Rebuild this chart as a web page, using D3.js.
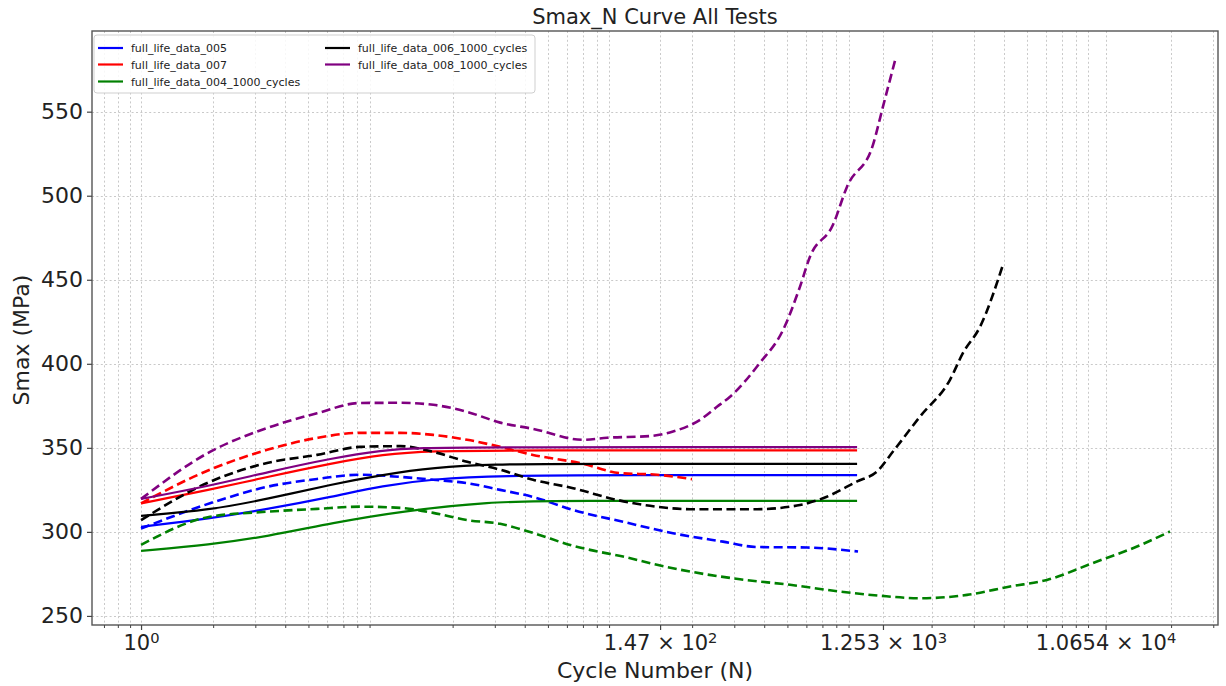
<!DOCTYPE html>
<html><head><meta charset="utf-8">
<script src="https://cdn.jsdelivr.net/npm/d3@7"></script>
<style>body{margin:0;background:#fff}svg{display:block;font-family:"DejaVu Sans",sans-serif}</style>
</head><body><svg id="c" width="1226" height="686"></svg>
<script>
// ---------- data ----------
const categories = ["full_life_data_005", "full_life_data_007", "full_life_data_004_1000_cycles", "full_life_data_006_1000_cycles", "full_life_data_008_1000_cycles"];

// solid (fitted) curves
const fitN_005 = [1, 1.94, 3.36, 6.34, 10.2, 16.6, 31.6, 100, 977];
const fitS_005 = [303, 308, 313.5, 321, 327.5, 331.5, 333.5, 333.8, 333.8];
const fitN_007 = [1, 1.94, 3.36, 6.34, 10.2, 16.6, 31.6, 977];
const fitS_007 = [317, 325, 332.7, 341, 346.2, 348.2, 348.5, 348.5];
const fitN_004 = [1, 1.94, 3.36, 6.34, 12.1, 29.5, 50, 977];
const fitS_004 = [288.7, 292.3, 297.3, 305.4, 312.3, 318, 318.5, 318.5];
const fitN_006 = [1, 1.94, 3.36, 6.34, 10.2, 16.6, 30, 60, 977];
const fitS_006 = [309.5, 313, 319.5, 328.5, 334, 338.3, 340.3, 340.5, 340.5];
const fitN_008 = [1, 1.94, 3.36, 6.34, 10.2, 14.2, 30, 977];
const fitS_008 = [319.6, 327.4, 335.5, 344, 348.6, 350, 350.4, 350.4];

// dashed (test) curves
const testN_005 = [1, 1.94, 3.36, 5.43, 8.21, 12.1, 16.6, 23.0, 31.6, 43.3, 63.7, 102.9, 166.4, 269, 373, 604, 986];
const testS_005 = [302, 317, 326.8, 331.5, 334, 332.7, 331, 329, 325, 320.8, 313, 306, 299.2, 294.2, 291, 290.7, 288.3];
const testN_007 = [1, 1.94, 3.36, 5.43, 8.21, 12.1, 16.6, 23.0, 31.6, 43.3, 68.1, 100, 142.7, 199.8];
const testS_007 = [317, 337, 348.8, 355.9, 358.9, 358.9, 357.7, 354.8, 350.6, 345.8, 340.9, 335, 334, 331.4];
const testN_004 = [1, 1.94, 3.36, 5.43, 8.21, 12.1, 16.6, 23.0, 31.6, 43.3, 63.7, 74.9, 102.9, 142.7, 196, 317, 513, 829, 1218, 1789, 2811, 4250, 6066, 9441, 14410, 19790];
const testS_004 = [292.3, 309, 312, 313.7, 315, 314.3, 311.3, 307, 304.8, 299.4, 291.7, 289.3, 285.3, 280.4, 276.4, 271.8, 268.5, 264.5, 262, 260.5, 262.5, 267.5, 271.4, 281.5, 291.3, 300.2];
const testN_006 = [1, 1.94, 3.36, 5.43, 8.21, 12.1, 16.6, 23.0, 31.6, 43.3, 63.7, 97.2, 133.5, 196, 373, 564, 704, 977, 1183, 1380, 1789, 2387, 2705, 3186, 3974];
const testS_006 = [307, 329.8, 341, 345.8, 350.6, 351, 347.6, 341.7, 337, 331, 326, 319, 315.5, 313.5, 313.5, 316, 320, 330, 335.9, 347.8, 368.6, 390.5, 406.5, 422, 459];
const testN_008 = [1, 1.94, 3.36, 5.43, 8.21, 12.1, 16.6, 23.0, 31.6, 43.3, 70.1, 88.3, 133.5, 166.4, 216, 254, 288, 384, 479, 564, 621, 775, 887, 1139, 1253, 1407];
const testS_008 = [319.6, 347.6, 361.8, 370.6, 376.7, 376.8, 375.6, 371.4, 365, 361.3, 354.8, 356, 357, 359.7, 366.7, 374.4, 380.4, 400.6, 420, 445.8, 463.7, 482.7, 505.4, 530.4, 553, 580.4];

const xTickValues = [1, 147, 1253, 10654];
const xTickMantissa = ["", "1.47", "1.253", "1.0654"];
const xTickExponent = ["0", "2", "3", "4"];
const yTickValues = [250, 300, 350, 400, 450, 500, 550];

// ---------- styles ----------
const colors = ["#0000ff", "#ff0000", "#008000", "#000000", "#800080"];
const fits = [[fitN_005, fitS_005], [fitN_007, fitS_007], [fitN_004, fitS_004], [fitN_006, fitS_006], [fitN_008, fitS_008]];
const tests = [[testN_005, testS_005], [testN_007, testS_007], [testN_004, testS_004], [testN_006, testS_006], [testN_008, testS_008]];

const L = 92, R = 1218, T = 31, B = 625;
const svg = d3.select("#c");
const x = d3.scaleLog().domain([0.624, 31400]).range([L, R]);
const y = d3.scaleLinear().domain([244.6, 598]).range([B, T]);

// minor log ticks
const minorVals = [];
for (let k = -1; k <= 4; k++) for (let m = 2; m <= 9; m++) {
  const v = m * Math.pow(10, k);
  if (v >= x.domain()[0] && v <= x.domain()[1]) minorVals.push(v);
}

// grid
const grid = svg.append("g").attr("stroke", "#c9c9c9").attr("stroke-width", 1).attr("stroke-dasharray", "2,2.4");
grid.selectAll(".gx").data(minorVals.concat(xTickValues)).join("line")
  .attr("x1", d => Math.round(x(d)) + 0.5).attr("x2", d => Math.round(x(d)) + 0.5).attr("y1", T).attr("y2", B);
grid.selectAll(".gy").data(yTickValues).join("line")
  .attr("x1", L).attr("x2", R).attr("y1", d => Math.round(y(d)) + 0.5).attr("y2", d => Math.round(y(d)) + 0.5);

// lines
const fitLine = d3.line().x(d => x(d[0])).y(d => y(d[1])).curve(d3.curveBasis);
const testLine = d3.line().x(d => x(d[0])).y(d => y(d[1])).curve(d3.curveMonotoneX);
const plot = svg.append("g").attr("fill", "none");
categories.forEach((c, i) => {
  const fd = fits[i][0].map((n, j) => [n, fits[i][1][j]]);
  const td = tests[i][0].map((n, j) => [n, tests[i][1][j]]);
  plot.append("path").attr("d", fitLine(fd)).attr("stroke", colors[i]).attr("stroke-width", 2.2);
  plot.append("path").attr("d", testLine(td)).attr("stroke", colors[i]).attr("stroke-width", 2.6)
    .attr("stroke-dasharray", "9,4.5");
});

// spines
svg.append("rect").attr("x", L).attr("y", T).attr("width", R - L).attr("height", B - T)
  .attr("fill", "none").attr("stroke", "#555").attr("stroke-width", 1.4);

// x axis
const gx = svg.append("g").attr("transform", `translate(0,${B})`)
  .call(d3.axisBottom(x).tickValues(xTickValues).tickSize(5).tickSizeOuter(0).tickPadding(5).tickFormat(() => ""));
gx.select(".domain").remove();
gx.selectAll(".tick line").attr("stroke", "#444").attr("stroke-width", 1.2);
gx.selectAll(".tick text").attr("font-size", 21).attr("fill", "#222").attr("font-family", "DejaVu Sans")
  .each(function(d, i) {
    const t = d3.select(this);
    t.append("tspan").text(xTickMantissa[i] ? xTickMantissa[i] + " × 10" : "10");
    t.append("tspan").attr("dy", "-0.5em").attr("font-size", "0.7em").text(xTickExponent[i]);
  });
const gxm = svg.append("g").attr("transform", `translate(0,${B})`)
  .call(d3.axisBottom(x).tickValues(minorVals).tickSize(3).tickSizeOuter(0).tickFormat(() => ""));
gxm.select(".domain").remove();
gxm.selectAll(".tick line").attr("stroke", "#444").attr("stroke-width", 1);

// y axis
const gy = svg.append("g").attr("transform", `translate(${L},0)`)
  .call(d3.axisLeft(y).tickValues(yTickValues).tickSize(5).tickSizeOuter(0).tickPadding(4));
gy.select(".domain").remove();
gy.selectAll(".tick line").attr("stroke", "#444").attr("stroke-width", 1.2);
gy.selectAll(".tick text").attr("font-size", 22).attr("fill", "#222").attr("font-family", "DejaVu Sans");

// titles
svg.append("text").attr("x", (L + R) / 2).attr("y", 24).attr("text-anchor", "middle")
  .attr("font-size", 21).attr("fill", "#222").text("Smax_N Curve All Tests");
svg.append("text").attr("x", (L + R) / 2).attr("y", 678).attr("text-anchor", "middle")
  .attr("font-size", 22).attr("fill", "#222").text("Cycle Number (N)");
svg.append("text").attr("transform", "translate(29,340) rotate(-90)").attr("text-anchor", "middle")
  .attr("font-size", 22).attr("fill", "#222").text("Smax (MPa)");

// legend
const lg = svg.append("g");
lg.append("rect").attr("x", 94).attr("y", 35).attr("width", 441).attr("height", 58).attr("rx", 3)
  .attr("fill", "#fff").attr("fill-opacity", 0.85).attr("stroke", "#cfcfcf").attr("stroke-width", 1);
const colX = [98, 325], rowY = [48, 64.5, 81.5];
categories.forEach((c, i) => {
  const col = i < 3 ? 0 : 1, row = i < 3 ? i : i - 3;
  lg.append("line").attr("x1", colX[col]).attr("x2", colX[col] + 25).attr("y1", rowY[row]).attr("y2", rowY[row])
    .attr("stroke", colors[i]).attr("stroke-width", 2.2);
  lg.append("text").attr("x", colX[col] + 33).attr("y", rowY[row] + 4).attr("font-size", 11).attr("fill", "#222").text(c);
});
</script></body></html>
